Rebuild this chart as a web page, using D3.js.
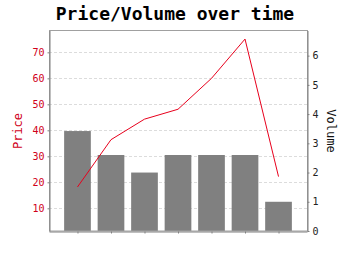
<!DOCTYPE html>
<html>
<head>
  <meta charset="UTF-8">
  <title>Price/Volume over time</title>
  <script src="https://d3js.org/d3.v7.min.js"></script>
  <style>
    body { margin: 0; background: white; }
    text { font-family: "DejaVu Sans Mono", monospace; }
    .grid-line { stroke: #dcdcdc; stroke-dasharray: 3,2; }
  </style>
</head>
<body>
  <svg width="350" height="255"></svg>
  <script>
    const periods = ["1", "2", "3", "4", "5", "6", "7"];
    const price = [18.2, 36.4, 44.3, 48.1, 60.0, 75.1, 22.2];
    const volume = [3.42, 2.6, 2.0, 2.6, 2.6, 2.6, 1.0];
    const priceTicks = [10, 20, 30, 40, 50, 60, 70];
    const volumeTicks = [0, 1, 2, 3, 4, 5, 6];

    const svg = d3.select("svg");
    const plot = { left: 49, right: 307, top: 30.5, bottom: 231 };

    const x = d3.scalePoint()
      .domain(periods)
      .range([plot.left, plot.right])
      .padding(0.85);

    const yPrice = d3.scaleLinear().domain([1.27, 78.4]).range([plot.bottom, plot.top]);
    const yVol = d3.scaleLinear().domain([0, 6.86]).range([plot.bottom, plot.top]);

    svg.append("text")
      .attr("x", 175)
      .attr("y", 20)
      .attr("text-anchor", "middle")
      .attr("font-size", 18)
      .attr("font-weight", "bold")
      .text("Price/Volume over time");

    // grid
    svg.selectAll(".grid-line")
      .data(priceTicks)
      .enter()
      .append("line")
      .attr("class", "grid-line")
      .attr("x1", plot.left)
      .attr("x2", plot.right)
      .attr("y1", d => Math.round(yPrice(d)) + 0.5)
      .attr("y2", d => Math.round(yPrice(d)) + 0.5);

    // bars
    const barW = 26.7;
    svg.selectAll(".bar")
      .data(volume)
      .enter()
      .append("rect")
      .attr("class", "bar")
      .attr("x", (d, i) => x(periods[i]) - barW / 2)
      .attr("y", d => yVol(d))
      .attr("width", barW)
      .attr("height", d => plot.bottom - yVol(d))
      .attr("fill", "#808080");

    // price line
    const line = d3.line()
      .x((d, i) => x(periods[i]))
      .y(d => yPrice(d));
    svg.append("path")
      .datum(price)
      .attr("fill", "none")
      .attr("stroke", "#e8001c")
      .attr("stroke-width", 1)
      .attr("d", line);

    // plot border
    svg.append("rect")
      .attr("x", plot.left + 0.5)
      .attr("y", plot.top)
      .attr("width", plot.right - plot.left)
      .attr("height", plot.bottom - plot.top)
      .attr("fill", "none")
      .attr("stroke", "#a0a0a0");

    // axes
    const axLeft = svg.append("g")
      .attr("transform", `translate(${plot.left + 0.5},0)`)
      .call(d3.axisLeft(yPrice).tickValues(priceTicks).tickSize(2).tickSizeOuter(0).tickPadding(3));
    axLeft.select(".domain").attr("stroke", "#808080");
    axLeft.selectAll(".tick line").attr("stroke", "#808080");
    axLeft.selectAll("text")
      .attr("fill", "#d0001a")
      .attr("font-size", 10)
      .attr("font-family", "DejaVu Sans Mono");

    const axRight = svg.append("g")
      .attr("transform", `translate(${plot.right + 0.5},0)`)
      .call(d3.axisRight(yVol).tickValues(volumeTicks).tickFormat(d3.format("d"))
        .tickSize(2).tickSizeOuter(0).tickPadding(3));
    axRight.select(".domain").attr("stroke", "#808080");
    axRight.selectAll(".tick line").attr("stroke", "#808080");
    axRight.selectAll("text")
      .attr("fill", "#222")
      .attr("font-size", 10)
      .attr("font-family", "DejaVu Sans Mono");

    const axBottom = svg.append("g")
      .attr("transform", `translate(0,${plot.bottom + 0.5})`)
      .call(d3.axisBottom(x).tickSize(2).tickSizeOuter(0).tickFormat(""));
    axBottom.select(".domain").attr("stroke", "#808080");
    axBottom.selectAll(".tick line").attr("stroke", "#808080");

    svg.append("text")
      .attr("transform", `translate(22,131) rotate(-90)`)
      .attr("text-anchor", "middle")
      .attr("font-size", 12)
      .attr("fill", "#d0001a")
      .text("Price");

    svg.append("text")
      .attr("transform", `translate(327,131) rotate(90)`)
      .attr("text-anchor", "middle")
      .attr("font-size", 12)
      .attr("fill", "#111")
      .text("Volume");
  </script>
</body>
</html>
